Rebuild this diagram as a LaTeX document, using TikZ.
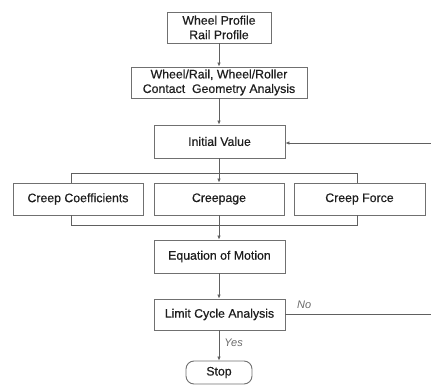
\documentclass[tikz,border=0pt]{standalone}
\usepackage{fontspec}
\setmainfont{Liberation Sans}
\newfontfamily\boxfont[FakeBold=0.5]{Liberation Sans}
\usetikzlibrary{arrows.meta}
\definecolor{boxline}{HTML}{707070}
\definecolor{conn}{HTML}{606060}
\definecolor{txt}{HTML}{1E1E1E}
\definecolor{lbl}{HTML}{6A6A6A}
\begin{document}
\begin{tikzpicture}[x=1pt,y=-1pt,
  box/.style={draw=boxline,line width=0.9pt,fill=white,text=txt,align=center,
    font=\boxfont\fontsize{12.3}{14.5}\selectfont,inner sep=0pt,anchor=center},
  conn/.style={draw=conn,line width=0.9pt},
  arr/.style={conn,-{Latex[length=4pt,width=3.6pt]}},
  lab/.style={text=lbl,font=\fontsize{11}{13}\itshape\selectfont,inner sep=0pt}]
\useasboundingbox (0,0) rectangle (431,385);
\node[box,minimum width=104,minimum height=31] (wp) at (219,27.5) {Wheel Profile\\Rail Profile};
\node[box,minimum width=176,minimum height=31] (cg) at (219,82.5) {Wheel/Rail, Wheel/Roller\\Contact\ \ Geometry Analysis};
\node[box,minimum width=131,minimum height=33] (iv) at (219.5,141.5) {Initial Value};
\node[box,minimum width=130,minimum height=32] (cc) at (78,199) {Creep Coefficients};
\node[box,minimum width=130,minimum height=32] (cp) at (219,199) {Creepage};
\node[box,minimum width=131,minimum height=32] (cf) at (359.5,199) {Creep Force};
\node[box,minimum width=131,minimum height=33] (em) at (219.5,256.5) {Equation of Motion};
\node[box,minimum width=131,minimum height=31] (lc) at (219.5,314.5) {Limit Cycle Analysis};
\node[box,rounded corners=8pt,minimum width=66,minimum height=23] (st) at (219,372.5) {Stop};
% connectors
\draw[arr] (wp.south -| 219,0) -- (cg.north -| 219,0);
\draw[arr] (cg.south -| 219,0) -- (iv.north -| 219,0);
\coordinate (sl) at (71,173);
\coordinate (sr) at (357,173);
\coordinate (sm) at (219,173);
\draw[conn] (iv.south -| sm) -- (sm);
\draw[conn] (cc.north -| sl) -- (sl) -- (sr) -- (cf.north -| sr);
\draw[arr] (sm) -- (cp.north -| sm);
\coordinate (jl) at (71,225);
\coordinate (jr) at (357,225);
\coordinate (jm) at (219,225);
\draw[conn] (cc.south -| jl) -- (jl) -- (jr) -- (cf.south -| jr);
\draw[conn] (cp.south -| jm) -- (jm);
\draw[arr] (jm) -- (em.north -| jm);
\draw[arr] (em.south -| 219,0) -- (lc.north -| 219,0);
\draw[arr] (lc.south -| 219,0) -- node[lab,right=5pt,pos=0.4] (yes) {Yes} (st.north -| 219,0);
\coordinate (fb1) at (431,314);
\coordinate (fb2) at (431,143);
\draw[arr] (lc.east |- fb1) -- (fb1) -- (fb2) -- (iv.east |- fb2);
\node[lab,anchor=south west] (no) at (297,309) {No};
\end{tikzpicture}
\end{document}
